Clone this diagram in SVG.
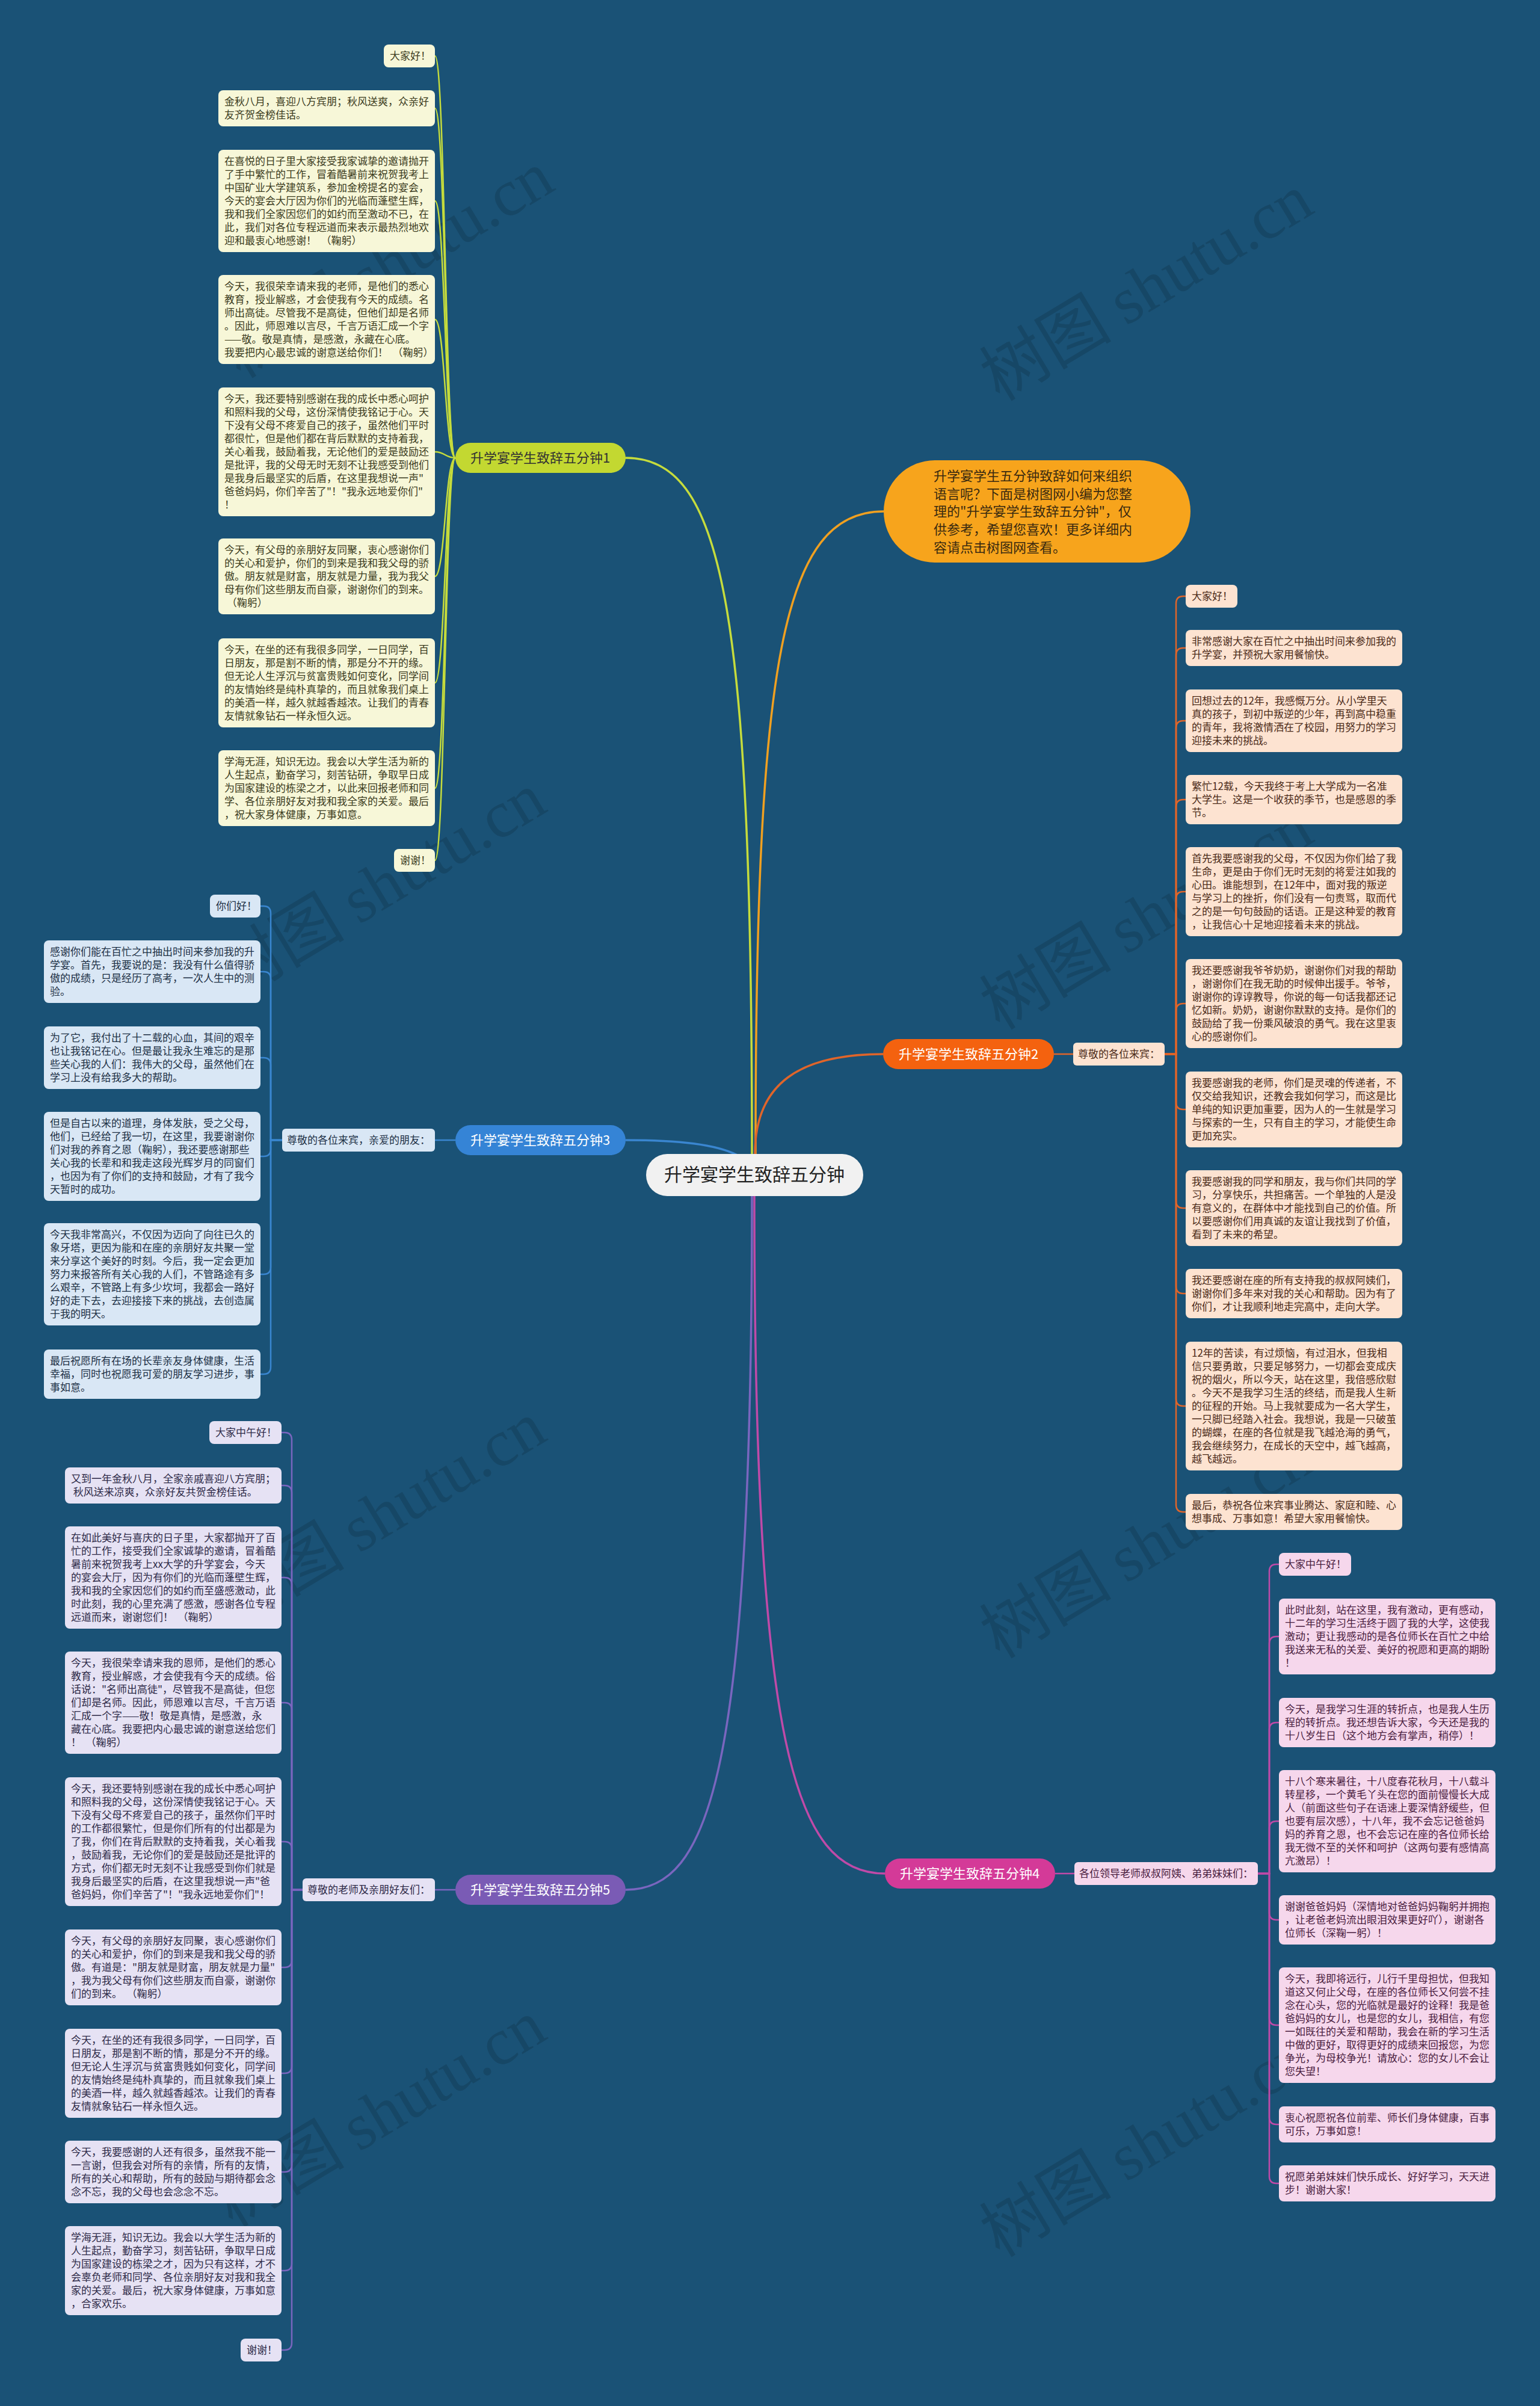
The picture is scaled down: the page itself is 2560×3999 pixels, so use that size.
<svg xmlns="http://www.w3.org/2000/svg" width="2560" height="3999" viewBox="0 0 2560 3999">
<style>
text{font-family:"Noto Sans CJK SC","Noto Sans",sans-serif;white-space:pre}
.s{font-size:17px}
.b{font-size:22px}
.c1 rect{fill:#f7f7d8}.c1 text{fill:#3c3c1e}
.c2 rect{fill:#fde3d1}.c2 text{fill:#4b2a18}
.c3 rect{fill:#d9e7f5}.c3 text{fill:#1d3045}
.c4 rect{fill:#f6d7ec}.c4 text{fill:#4a2040}
.c5 rect{fill:#e6e2f4}.c5 text{fill:#2e2a48}
.e path{fill:none;stroke-width:2.5}
.m path{fill:none;stroke-width:3.5}
.wm{font-size:110px;fill:#000;opacity:0.13}
</style>
<rect width="2560" height="3999" fill="#1a5276"/>

<g id="watermarks">
<text class="wm" transform="translate(663 472) rotate(-31)" text-anchor="middle">树图 <tspan font-family="Liberation Serif,serif">shutu.cn</tspan></text>
<text class="wm" transform="translate(1925 510) rotate(-31)" text-anchor="middle">树图 <tspan font-family="Liberation Serif,serif">shutu.cn</tspan></text>
<text class="wm" transform="translate(650 1505) rotate(-31)" text-anchor="middle">树图 <tspan font-family="Liberation Serif,serif">shutu.cn</tspan></text>
<text class="wm" transform="translate(1925 1555) rotate(-31)" text-anchor="middle">树图 <tspan font-family="Liberation Serif,serif">shutu.cn</tspan></text>
<text class="wm" transform="translate(650 2550) rotate(-31)" text-anchor="middle">树图 <tspan font-family="Liberation Serif,serif">shutu.cn</tspan></text>
<text class="wm" transform="translate(1925 2600) rotate(-31)" text-anchor="middle">树图 <tspan font-family="Liberation Serif,serif">shutu.cn</tspan></text>
<text class="wm" transform="translate(650 3545) rotate(-31)" text-anchor="middle">树图 <tspan font-family="Liberation Serif,serif">shutu.cn</tspan></text>
<text class="wm" transform="translate(1925 3595) rotate(-31)" text-anchor="middle">树图 <tspan font-family="Liberation Serif,serif">shutu.cn</tspan></text>
</g>

<g id="connectors">
<g class="m">
<path stroke="#c6dc3c" d="M1250 1918C1250 1000 1200 761 1040 761"/>
<path stroke="#f0a020" d="M1256 1918C1256 1100 1300 850 1469 850"/>
<path stroke="#e0652a" d="M1255 1918C1255 1800 1330 1752 1468 1752"/>
<path stroke="#3a86d0" d="M1040 1895C1130 1895 1190 1902 1226 1920"/>
<path stroke="#c04aa8" d="M1254 1988C1254 2900 1320 3114 1471 3114"/>
<path stroke="#7a66bf" d="M1250 1988C1250 2950 1180 3141 1040 3141"/>
</g>
<g class="e" stroke="#c6dc3c">
<path d="M757 761C740 761 740 93 723 93"/>
<path d="M757 761C740 761 740 180 723 180"/>
<path d="M757 761C740 761 740 334 723 334"/>
<path d="M757 761C740 761 740 531 723 531"/>
<path d="M757 761C740 761 740 751 723 751"/>
<path d="M757 761C740 761 740 958 723 958"/>
<path d="M757 761C740 761 740 1135 723 1135"/>
<path d="M757 761C740 761 740 1310 723 1310"/>
<path d="M757 761C740 761 740 1430 723 1430"/>
</g>
<g class="e" stroke="#e0652a">
<path d="M1752 1752H1784"/>
<path d="M1936 1752H1955V1003Q1955 991 1967 991H1971"/>
<path d="M1936 1752H1955V1089Q1955 1077 1967 1077H1971"/>
<path d="M1936 1752H1955V1210Q1955 1198 1967 1198H1971"/>
<path d="M1936 1752H1955V1341Q1955 1329 1967 1329H1971"/>
<path d="M1936 1752H1955V1494Q1955 1482 1967 1482H1971"/>
<path d="M1936 1752H1955V1680Q1955 1668 1967 1668H1971"/>
<path d="M1936 1752H1955V1832Q1955 1844 1967 1844H1971"/>
<path d="M1936 1752H1955V1996Q1955 2008 1967 2008H1971"/>
<path d="M1936 1752H1955V2138Q1955 2150 1967 2150H1971"/>
<path d="M1936 1752H1955V2325Q1955 2337 1967 2337H1971"/>
<path d="M1936 1752H1955V2501Q1955 2513 1967 2513H1971"/>
</g>
<g class="e" stroke="#3a86d0">
<path d="M757 1895H723"/>
<path d="M469 1895H450V1518Q450 1506 438 1506H433"/>
<path d="M469 1895H450V1627Q450 1615 438 1615H433"/>
<path d="M469 1895H450V1770Q450 1758 438 1758H433"/>
<path d="M469 1895H450V1910Q450 1922 438 1922H433"/>
<path d="M469 1895H450V2106Q450 2118 438 2118H433"/>
<path d="M469 1895H450V2272Q450 2284 438 2284H433"/>
</g>
<g class="e" stroke="#c04aa8">
<path d="M1754 3114H1786"/>
<path d="M2091 3114H2110V2612Q2110 2600 2122 2600H2126"/>
<path d="M2091 3114H2110V2732Q2110 2720 2122 2720H2126"/>
<path d="M2091 3114H2110V2875Q2110 2863 2122 2863H2126"/>
<path d="M2091 3114H2110V3039Q2110 3027 2122 3027H2126"/>
<path d="M2091 3114H2110V3179Q2110 3191 2122 3191H2126"/>
<path d="M2091 3114H2110V3354Q2110 3366 2122 3366H2126"/>
<path d="M2091 3114H2110V3519Q2110 3531 2122 3531H2126"/>
<path d="M2091 3114H2110V3617Q2110 3629 2122 3629H2126"/>
</g>
<g class="e" stroke="#7a66bf">
<path d="M757 3141H723"/>
<path d="M503 3141H485V2393Q485 2381 473 2381H468"/>
<path d="M503 3141H485V2481Q485 2469 473 2469H468"/>
<path d="M503 3141H485V2634Q485 2622 473 2622H468"/>
<path d="M503 3141H485V2842Q485 2830 473 2830H468"/>
<path d="M503 3141H485V3073Q485 3061 473 3061H468"/>
<path d="M503 3141H485V3258Q485 3270 473 3270H468"/>
<path d="M503 3141H485V3434Q485 3446 473 3446H468"/>
<path d="M503 3141H485V3598Q485 3610 473 3610H468"/>
<path d="M503 3141H485V3762Q485 3774 473 3774H468"/>
<path d="M503 3141H485V3894Q485 3906 473 3906H468"/>
</g>
</g>

<g id="center">
<rect x="1074" y="1918" width="361" height="70" rx="35" fill="#f1f1f1"/>
<text x="1254" y="1963" font-size="30" fill="#222" text-anchor="middle">升学宴学生致辞五分钟</text>
</g>

<g id="desc">
<rect x="1469" y="765" width="510" height="170" rx="85" fill="#f7a41c"/>
<text class="b" fill="#3a2a10"><tspan x="1552" y="799">升学宴学生五分钟致辞如何来组织</tspan><tspan x="1552" y="829">语言呢？下面是树图网小编为您整</tspan><tspan x="1552" y="858">理的"升学宴学生致辞五分钟"，仅</tspan><tspan x="1552" y="888">供参考，希望您喜欢！更多详细内</tspan><tspan x="1552" y="918">容请点击树图网查看。</tspan></text>
</g>

<g id="branch1">
<rect x="757" y="736" width="283" height="50" rx="25" fill="#c3d831"/>
<text class="b" x="898" y="769" fill="#333" text-anchor="middle">升学宴学生致辞五分钟1</text>
</g>
<g id="branch2">
<rect x="1468" y="1727" width="284" height="50" rx="25" fill="#f4620f"/>
<text class="b" x="1610" y="1760" fill="#fff" text-anchor="middle">升学宴学生致辞五分钟2</text>
</g>
<g id="branch3">
<rect x="757" y="1870" width="283" height="50" rx="25" fill="#3584d6"/>
<text class="b" x="898" y="1903" fill="#fff" text-anchor="middle">升学宴学生致辞五分钟3</text>
</g>
<g id="branch4">
<rect x="1471" y="3089" width="283" height="50" rx="25" fill="#d43a98"/>
<text class="b" x="1612" y="3122" fill="#fff" text-anchor="middle">升学宴学生致辞五分钟4</text>
</g>
<g id="branch5">
<rect x="757" y="3116" width="283" height="50" rx="25" fill="#7a5bb5"/>
<text class="b" x="898" y="3149" fill="#fff" text-anchor="middle">升学宴学生致辞五分钟5</text>
</g>

<g class="c1 s">
<g id="b1-1"><rect x="638" y="74" width="85" height="38" rx="8"/><text x="648" y="99">大家好！</text></g>
<g id="b1-2"><rect x="363" y="150" width="360" height="60" rx="8"/><text><tspan x="373" y="175">金秋八月，喜迎八方宾朋；秋风送爽，众亲好</tspan><tspan x="373" y="197">友齐贺金榜佳话。</tspan></text></g>
<g id="b1-3"><rect x="363" y="249" width="360" height="170" rx="8"/><text><tspan x="373" y="274">在喜悦的日子里大家接受我家诚挚的邀请抛开</tspan><tspan x="373" y="296">了手中繁忙的工作，冒着酷暑前来祝贺我考上</tspan><tspan x="373" y="318">中国矿业大学建筑系，参加金榜提名的宴会，</tspan><tspan x="373" y="340">今天的宴会大厅因为你们的光临而蓬壁生辉，</tspan><tspan x="373" y="362">我和我们全家因您们的如约而至激动不已，在</tspan><tspan x="373" y="384">此，我们对各位专程远道而来表示最热烈地欢</tspan><tspan x="373" y="406">迎和最衷心地感谢！  （鞠躬）</tspan></text></g>
<g id="b1-4"><rect x="363" y="457" width="360" height="148" rx="8"/><text><tspan x="373" y="482">今天，我很荣幸请来我的老师，是他们的悉心</tspan><tspan x="373" y="504">教育，授业解惑，才会使我有今天的成绩。名</tspan><tspan x="373" y="526">师出高徒。尽管我不是高徒，但他们却是名师</tspan><tspan x="373" y="548">。因此，师恩难以言尽，千言万语汇成一个字</tspan><tspan x="373" y="570">——敬。敬是真情，是感激，永藏在心底。</tspan><tspan x="373" y="592">我要把内心最忠诚的谢意送给你们！  （鞠躬）</tspan></text></g>
<g id="b1-5"><rect x="363" y="644" width="360" height="214" rx="8"/><text><tspan x="373" y="669">今天，我还要特别感谢在我的成长中悉心呵护</tspan><tspan x="373" y="691">和照料我的父母，这份深情使我铭记于心。天</tspan><tspan x="373" y="713">下没有父母不疼爱自己的孩子，虽然他们平时</tspan><tspan x="373" y="735">都很忙，但是他们都在背后默默的支持着我，</tspan><tspan x="373" y="757">关心着我，鼓励着我，无论他们的爱是鼓励还</tspan><tspan x="373" y="779">是批评，我的父母无时无刻不让我感受到他们</tspan><tspan x="373" y="801">是我身后最坚实的后盾，在这里我想说一声"</tspan><tspan x="373" y="823">爸爸妈妈，你们辛苦了"！"我永远地爱你们"</tspan><tspan x="373" y="845">！</tspan></text></g>
<g id="b1-6"><rect x="363" y="895" width="360" height="126" rx="8"/><text><tspan x="373" y="920">今天，有父母的亲朋好友同聚，衷心感谢你们</tspan><tspan x="373" y="942">的关心和爱护，你们的到来是我和我父母的骄</tspan><tspan x="373" y="964">傲。朋友就是财富，朋友就是力量，我为我父</tspan><tspan x="373" y="986">母有你们这些朋友而自豪，谢谢你们的到来。</tspan><tspan x="373" y="1008"> （鞠躬）</tspan></text></g>
<g id="b1-7"><rect x="363" y="1061" width="360" height="148" rx="8"/><text><tspan x="373" y="1086">今天，在坐的还有我很多同学，一日同学，百</tspan><tspan x="373" y="1108">日朋友，那是割不断的情，那是分不开的缘。</tspan><tspan x="373" y="1130">但无论人生浮沉与贫富贵贱如何变化，同学间</tspan><tspan x="373" y="1152">的友情始终是纯朴真挚的，而且就象我们桌上</tspan><tspan x="373" y="1174">的美酒一样，越久就越香越浓。让我们的青春</tspan><tspan x="373" y="1196">友情就象钻石一样永恒久远。</tspan></text></g>
<g id="b1-8"><rect x="363" y="1247" width="360" height="126" rx="8"/><text><tspan x="373" y="1272">学海无涯，知识无边。我会以大学生活为新的</tspan><tspan x="373" y="1294">人生起点，勤奋学习，刻苦钻研，争取早日成</tspan><tspan x="373" y="1316">为国家建设的栋梁之才，以此来回报老师和同</tspan><tspan x="373" y="1338">学、各位亲朋好友对我和我全家的关爱。最后</tspan><tspan x="373" y="1360">，祝大家身体健康，万事如意。</tspan></text></g>
<g id="b1-9"><rect x="655" y="1411" width="68" height="38" rx="8"/><text x="665" y="1436">谢谢！</text></g>
</g>

<g class="c2 s">
<g id="b2-0"><rect x="1784" y="1733" width="152" height="38" rx="6"/><text x="1792" y="1758">尊敬的各位来宾：</text></g>
<g id="b2-1"><rect x="1971" y="972" width="86" height="38" rx="8"/><text x="1981" y="997">大家好！</text></g>
<g id="b2-2"><rect x="1971" y="1047" width="360" height="60" rx="8"/><text><tspan x="1981" y="1072">非常感谢大家在百忙之中抽出时间来参加我的</tspan><tspan x="1981" y="1094">升学宴，并预祝大家用餐愉快。</tspan></text></g>
<g id="b2-3"><rect x="1971" y="1146" width="360" height="104" rx="8"/><text><tspan x="1981" y="1171">回想过去的12年，我感慨万分。从小学里天</tspan><tspan x="1981" y="1193">真的孩子，到初中叛逆的少年，再到高中稳重</tspan><tspan x="1981" y="1215">的青年，我将激情洒在了校园，用努力的学习</tspan><tspan x="1981" y="1237">迎接未来的挑战。</tspan></text></g>
<g id="b2-4"><rect x="1971" y="1288" width="360" height="82" rx="8"/><text><tspan x="1981" y="1313">繁忙12载，今天我终于考上大学成为一名准</tspan><tspan x="1981" y="1335">大学生。这是一个收获的季节，也是感恩的季</tspan><tspan x="1981" y="1357">节。</tspan></text></g>
<g id="b2-5"><rect x="1971" y="1408" width="360" height="148" rx="8"/><text><tspan x="1981" y="1433">首先我要感谢我的父母，不仅因为你们给了我</tspan><tspan x="1981" y="1455">生命，更是由于你们无时无刻的将爱注如我的</tspan><tspan x="1981" y="1477">心田。谁能想到，在12年中，面对我的叛逆</tspan><tspan x="1981" y="1499">与学习上的挫折，你们没有一句责骂，取而代</tspan><tspan x="1981" y="1521">之的是一句句鼓励的话语。正是这种爱的教育</tspan><tspan x="1981" y="1543">，让我信心十足地迎接着未来的挑战。</tspan></text></g>
<g id="b2-6"><rect x="1971" y="1594" width="360" height="148" rx="8"/><text><tspan x="1981" y="1619">我还要感谢我爷爷奶奶，谢谢你们对我的帮助</tspan><tspan x="1981" y="1641">，谢谢你们在我无助的时候伸出援手。爷爷，</tspan><tspan x="1981" y="1663">谢谢你的谆谆教导，你说的每一句话我都还记</tspan><tspan x="1981" y="1685">忆如新。奶奶，谢谢你默默的支持。是你们的</tspan><tspan x="1981" y="1707">鼓励给了我一份乘风破浪的勇气。我在这里衷</tspan><tspan x="1981" y="1729">心的感谢你们。</tspan></text></g>
<g id="b2-7"><rect x="1971" y="1781" width="360" height="126" rx="8"/><text><tspan x="1981" y="1806">我要感谢我的老师，你们是灵魂的传递者，不</tspan><tspan x="1981" y="1828">仅交给我知识，还教会我如何学习，而这是比</tspan><tspan x="1981" y="1850">单纯的知识更加重要，因为人的一生就是学习</tspan><tspan x="1981" y="1872">与探索的一生，只有自主的学习，才能使生命</tspan><tspan x="1981" y="1894">更加充实。</tspan></text></g>
<g id="b2-8"><rect x="1971" y="1945" width="360" height="126" rx="8"/><text><tspan x="1981" y="1970">我要感谢我的同学和朋友，我与你们共同的学</tspan><tspan x="1981" y="1992">习，分享快乐，共担痛苦。一个单独的人是没</tspan><tspan x="1981" y="2014">有意义的，在群体中才能找到自己的价值。所</tspan><tspan x="1981" y="2036">以要感谢你们用真诚的友谊让我找到了价值，</tspan><tspan x="1981" y="2058">看到了未来的希望。</tspan></text></g>
<g id="b2-9"><rect x="1971" y="2109" width="360" height="82" rx="8"/><text><tspan x="1981" y="2134">我还要感谢在座的所有支持我的叔叔阿姨们，</tspan><tspan x="1981" y="2156">谢谢你们多年来对我的关心和帮助。因为有了</tspan><tspan x="1981" y="2178">你们，才让我顺利地走完高中，走向大学。</tspan></text></g>
<g id="b2-10"><rect x="1971" y="2230" width="360" height="214" rx="8"/><text><tspan x="1981" y="2255">12年的苦读，有过烦恼，有过泪水，但我相</tspan><tspan x="1981" y="2277">信只要勇敢，只要足够努力，一切都会变成庆</tspan><tspan x="1981" y="2299">祝的烟火，所以今天，站在这里，我倍感欣慰</tspan><tspan x="1981" y="2321">。今天不是我学习生活的终结，而是我人生新</tspan><tspan x="1981" y="2343">的征程的开始。马上我就要成为一名大学生，</tspan><tspan x="1981" y="2365">一只脚已经踏入社会。我想说，我是一只破茧</tspan><tspan x="1981" y="2387">的蝴蝶，在座的各位就是我飞越沧海的勇气，</tspan><tspan x="1981" y="2409">我会继续努力，在成长的天空中，越飞越高，</tspan><tspan x="1981" y="2431">越飞越远。</tspan></text></g>
<g id="b2-11"><rect x="1971" y="2483" width="360" height="60" rx="8"/><text><tspan x="1981" y="2508">最后，恭祝各位来宾事业腾达、家庭和睦、心</tspan><tspan x="1981" y="2530">想事成、万事如意！希望大家用餐愉快。</tspan></text></g>
</g>

<g class="c3 s">
<g id="b3-0"><rect x="469" y="1876" width="254" height="38" rx="6"/><text x="477" y="1901">尊敬的各位来宾，亲爱的朋友：</text></g>
<g id="b3-1"><rect x="349" y="1487" width="84" height="38" rx="8"/><text x="359" y="1512">你们好！</text></g>
<g id="b3-2"><rect x="73" y="1563" width="360" height="104" rx="8"/><text><tspan x="83" y="1588">感谢你们能在百忙之中抽出时间来参加我的升</tspan><tspan x="83" y="1610">学宴。首先，我要说的是：我没有什么值得骄</tspan><tspan x="83" y="1632">傲的成绩，只是经历了高考，一次人生中的测</tspan><tspan x="83" y="1654">验。</tspan></text></g>
<g id="b3-3"><rect x="73" y="1706" width="360" height="104" rx="8"/><text><tspan x="83" y="1731">为了它，我付出了十二载的心血，其间的艰辛</tspan><tspan x="83" y="1753">也让我铭记在心。但是最让我永生难忘的是那</tspan><tspan x="83" y="1775">些关心我的人们：我伟大的父母，虽然他们在</tspan><tspan x="83" y="1797">学习上没有给我多大的帮助。</tspan></text></g>
<g id="b3-4"><rect x="73" y="1848" width="360" height="148" rx="8"/><text><tspan x="83" y="1873">但是自古以来的道理，身体发肤，受之父母，</tspan><tspan x="83" y="1895">他们，已经给了我一切，在这里，我要谢谢你</tspan><tspan x="83" y="1917">们对我的养育之恩（鞠躬），我还要感谢那些</tspan><tspan x="83" y="1939">关心我的长辈和和我走这段光辉岁月的同窗们</tspan><tspan x="83" y="1961">，也因为有了你们的支持和鼓励，才有了我今</tspan><tspan x="83" y="1983">天暂时的成功。</tspan></text></g>
<g id="b3-5"><rect x="73" y="2033" width="360" height="170" rx="8"/><text><tspan x="83" y="2058">今天我非常高兴，不仅因为迈向了向往已久的</tspan><tspan x="83" y="2080">象牙塔，更因为能和在座的亲朋好友共聚一堂</tspan><tspan x="83" y="2102">来分享这个美好的时刻。今后，我一定会更加</tspan><tspan x="83" y="2124">努力来报答所有关心我的人们，不管路途有多</tspan><tspan x="83" y="2146">么艰辛，不管路上有多少坎坷，我都会一路好</tspan><tspan x="83" y="2168">好的走下去，去迎接接下来的挑战，去创造属</tspan><tspan x="83" y="2190">于我的明天。</tspan></text></g>
<g id="b3-6"><rect x="73" y="2243" width="360" height="82" rx="8"/><text><tspan x="83" y="2268">最后祝愿所有在场的长辈亲友身体健康，生活</tspan><tspan x="83" y="2290">幸福，同时也祝愿我可爱的朋友学习进步，事</tspan><tspan x="83" y="2312">事如意。</tspan></text></g>
</g>

<g class="c4 s">
<g id="b4-0"><rect x="1786" y="3095" width="305" height="38" rx="6"/><text x="1794" y="3120">各位领导老师叔叔阿姨、弟弟妹妹们：</text></g>
<g id="b4-1"><rect x="2126" y="2581" width="120" height="38" rx="8"/><text x="2136" y="2606">大家中午好！</text></g>
<g id="b4-2"><rect x="2126" y="2657" width="360" height="126" rx="8"/><text><tspan x="2136" y="2682">此时此刻，站在这里，我有激动，更有感动，</tspan><tspan x="2136" y="2704">十二年的学习生活终于圆了我的大学，这使我</tspan><tspan x="2136" y="2726">激动；更让我感动的是各位师长在百忙之中给</tspan><tspan x="2136" y="2748">我送来无私的关爱、美好的祝愿和更高的期盼</tspan><tspan x="2136" y="2770">！</tspan></text></g>
<g id="b4-3"><rect x="2126" y="2822" width="360" height="82" rx="8"/><text><tspan x="2136" y="2847">今天，是我学习生涯的转折点，也是我人生历</tspan><tspan x="2136" y="2869">程的转折点。我还想告诉大家，今天还是我的</tspan><tspan x="2136" y="2891">十八岁生日（这个地方会有掌声，稍停）！</tspan></text></g>
<g id="b4-4"><rect x="2126" y="2942" width="360" height="170" rx="8"/><text><tspan x="2136" y="2967">十八个寒来暑往，十八度春花秋月，十八载斗</tspan><tspan x="2136" y="2989">转星移，一个黄毛丫头在您的面前慢慢长大成</tspan><tspan x="2136" y="3011">人（前面这些句子在语速上要深情舒缓些，但</tspan><tspan x="2136" y="3033">也要有层次感），十八年，我不会忘记爸爸妈</tspan><tspan x="2136" y="3055">妈的养育之恩，也不会忘记在座的各位师长给</tspan><tspan x="2136" y="3077">我无微不至的关怀和呵护（这两句要有感情高</tspan><tspan x="2136" y="3099">亢激昂）！</tspan></text></g>
<g id="b4-5"><rect x="2126" y="3150" width="360" height="82" rx="8"/><text><tspan x="2136" y="3175">谢谢爸爸妈妈（深情地对爸爸妈妈鞠躬并拥抱</tspan><tspan x="2136" y="3197">，让老爸老妈流出眼泪效果更好吖），谢谢各</tspan><tspan x="2136" y="3219">位师长（深鞠一躬）！</tspan></text></g>
<g id="b4-6"><rect x="2126" y="3270" width="360" height="192" rx="8"/><text><tspan x="2136" y="3295">今天，我即将远行，儿行千里母担忧，但我知</tspan><tspan x="2136" y="3317">道这又何止父母，在座的各位师长又何尝不挂</tspan><tspan x="2136" y="3339">念在心头，您的光临就是最好的诠释！我是爸</tspan><tspan x="2136" y="3361">爸妈妈的女儿，也是您的女儿，我相信，有您</tspan><tspan x="2136" y="3383">一如既往的关爱和帮助，我会在新的学习生活</tspan><tspan x="2136" y="3405">中做的更好，取得更好的成绩来回报您，为您</tspan><tspan x="2136" y="3427">争光，为母校争光！请放心：您的女儿不会让</tspan><tspan x="2136" y="3449">您失望！</tspan></text></g>
<g id="b4-7"><rect x="2126" y="3501" width="360" height="60" rx="8"/><text><tspan x="2136" y="3526">衷心祝愿祝各位前辈、师长们身体健康，百事</tspan><tspan x="2136" y="3548">可乐，万事如意！</tspan></text></g>
<g id="b4-8"><rect x="2126" y="3599" width="360" height="60" rx="8"/><text><tspan x="2136" y="3624">祝愿弟弟妹妹们快乐成长、好好学习，天天进</tspan><tspan x="2136" y="3646">步！谢谢大家！</tspan></text></g>
</g>

<g class="c5 s">
<g id="b5-0"><rect x="503" y="3122" width="220" height="38" rx="6"/><text x="511" y="3147">尊敬的老师及亲朋好友们：</text></g>
<g id="b5-1"><rect x="348" y="2362" width="120" height="38" rx="8"/><text x="358" y="2387">大家中午好！</text></g>
<g id="b5-2"><rect x="108" y="2439" width="360" height="60" rx="8"/><text><tspan x="118" y="2464">又到一年金秋八月，全家亲戚喜迎八方宾朋；</tspan><tspan x="118" y="2486"> 秋风送来凉爽，众亲好友共贺金榜佳话。</tspan></text></g>
<g id="b5-3"><rect x="108" y="2537" width="360" height="170" rx="8"/><text><tspan x="118" y="2562">在如此美好与喜庆的日子里，大家都抛开了百</tspan><tspan x="118" y="2584">忙的工作，接受我们全家诚挚的邀请，冒着酷</tspan><tspan x="118" y="2606">暑前来祝贺我考上xx大学的升学宴会，今天</tspan><tspan x="118" y="2628">的宴会大厅，因为有你们的光临而蓬壁生辉，</tspan><tspan x="118" y="2650">我和我的全家因您们的如约而至盛感激动，此</tspan><tspan x="118" y="2672">时此刻，我的心里充满了感激，感谢各位专程</tspan><tspan x="118" y="2694">远道而来，谢谢您们！  （鞠躬）</tspan></text></g>
<g id="b5-4"><rect x="108" y="2745" width="360" height="170" rx="8"/><text><tspan x="118" y="2770">今天，我很荣幸请来我的恩师，是他们的悉心</tspan><tspan x="118" y="2792">教育，授业解惑，才会使我有今天的成绩。俗</tspan><tspan x="118" y="2814">话说："名师出高徒"，尽管我不是高徒，但您</tspan><tspan x="118" y="2836">们却是名师。因此，师恩难以言尽，千言万语</tspan><tspan x="118" y="2858">汇成一个字——敬！敬是真情，是感激，永</tspan><tspan x="118" y="2880">藏在心底。我要把内心最忠诚的谢意送给您们</tspan><tspan x="118" y="2902">！  （鞠躬）</tspan></text></g>
<g id="b5-5"><rect x="108" y="2954" width="360" height="214" rx="8"/><text><tspan x="118" y="2979">今天，我还要特别感谢在我的成长中悉心呵护</tspan><tspan x="118" y="3001">和照料我的父母，这份深情使我铭记于心。天</tspan><tspan x="118" y="3023">下没有父母不疼爱自己的孩子，虽然你们平时</tspan><tspan x="118" y="3045">的工作都很繁忙，但是你们所有的付出都是为</tspan><tspan x="118" y="3067">了我，你们在背后默默的支持着我，关心着我</tspan><tspan x="118" y="3089">，鼓励着我，无论你们的爱是鼓励还是批评的</tspan><tspan x="118" y="3111">方式，你们都无时无刻不让我感受到你们就是</tspan><tspan x="118" y="3133">我身后最坚实的后盾，在这里我想说一声"爸</tspan><tspan x="118" y="3155">爸妈妈，你们辛苦了"！"我永远地爱你们"！</tspan></text></g>
<g id="b5-6"><rect x="108" y="3207" width="360" height="126" rx="8"/><text><tspan x="118" y="3232">今天，有父母的亲朋好友同聚，衷心感谢你们</tspan><tspan x="118" y="3254">的关心和爱护，你们的到来是我和我父母的骄</tspan><tspan x="118" y="3276">傲。有道是："朋友就是财富，朋友就是力量"</tspan><tspan x="118" y="3298">，我为我父母有你们这些朋友而自豪，谢谢你</tspan><tspan x="118" y="3320">们的到来。  （鞠躬）</tspan></text></g>
<g id="b5-7"><rect x="108" y="3372" width="360" height="148" rx="8"/><text><tspan x="118" y="3397">今天，在坐的还有我很多同学，一日同学，百</tspan><tspan x="118" y="3419">日朋友，那是割不断的情，那是分不开的缘。</tspan><tspan x="118" y="3441">但无论人生浮沉与贫富贵贱如何变化，同学间</tspan><tspan x="118" y="3463">的友情始终是纯朴真挚的，而且就象我们桌上</tspan><tspan x="118" y="3485">的美酒一样，越久就越香越浓。让我们的青春</tspan><tspan x="118" y="3507">友情就象钻石一样永恒久远。</tspan></text></g>
<g id="b5-8"><rect x="108" y="3558" width="360" height="104" rx="8"/><text><tspan x="118" y="3583">今天，我要感谢的人还有很多，虽然我不能一</tspan><tspan x="118" y="3605">一言谢，但我会对所有的亲情，所有的友情，</tspan><tspan x="118" y="3627">所有的关心和帮助，所有的鼓励与期待都会念</tspan><tspan x="118" y="3649">念不忘，我的父母也会念念不忘。</tspan></text></g>
<g id="b5-9"><rect x="108" y="3700" width="360" height="148" rx="8"/><text><tspan x="118" y="3725">学海无涯，知识无边。我会以大学生活为新的</tspan><tspan x="118" y="3747">人生起点，勤奋学习，刻苦钻研，争取早日成</tspan><tspan x="118" y="3769">为国家建设的栋梁之才，因为只有这样，才不</tspan><tspan x="118" y="3791">会辜负老师和同学、各位亲朋好友对我和我全</tspan><tspan x="118" y="3813">家的关爱。最后，祝大家身体健康，万事如意</tspan><tspan x="118" y="3835">，合家欢乐。</tspan></text></g>
<g id="b5-10"><rect x="400" y="3887" width="68" height="38" rx="8"/><text x="410" y="3912">谢谢！</text></g>
</g>
</svg>
